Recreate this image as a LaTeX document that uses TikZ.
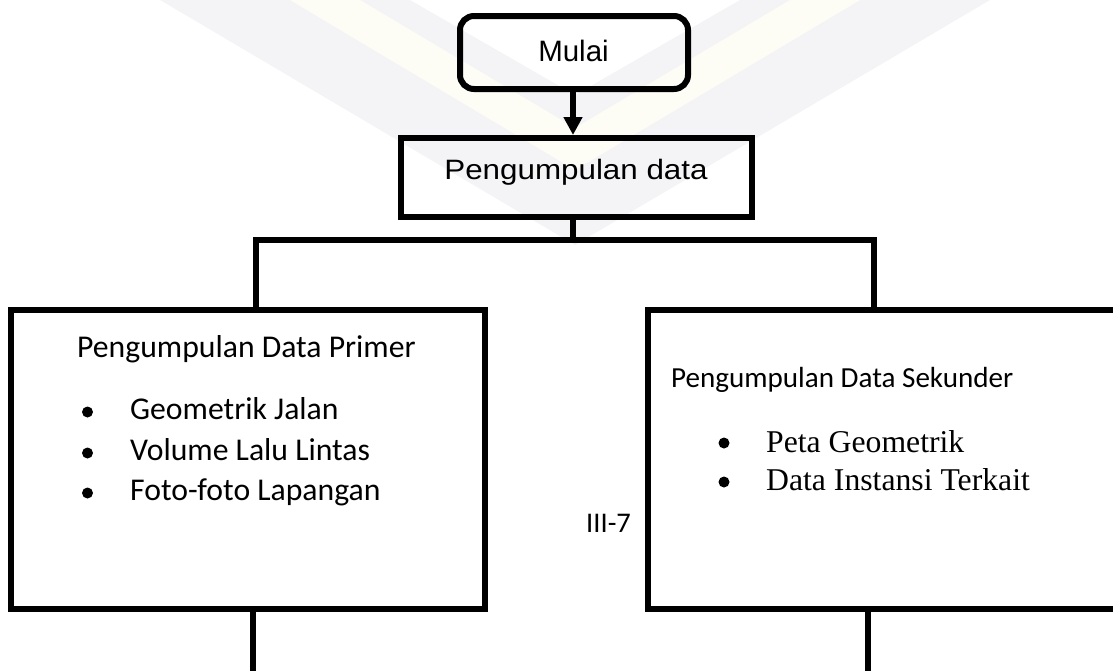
\documentclass[tikz,border=0pt]{standalone}
\usepackage{fontspec}
\setmainfont{Carlito}
\newfontfamily\arialfont{Liberation Sans}
\newfontfamily\arialwide[FakeStretch=1.12]{Liberation Sans}
\newfontfamily\timesfont{Liberation Serif}
\usetikzlibrary{arrows.meta}

\definecolor{markgray}{RGB}{244,244,247}
\definecolor{markcream}{RGB}{253,252,245}

\tikzset{
  thick box/.style={draw=black, line width=6pt, inner sep=0pt, outer sep=0pt, fill=none},
  startbox/.style={thick box, rounded corners=14pt},
  link/.style={draw=black, line width=5.5pt, line join=miter},
  flow/.style={link, -{Triangle[width=18pt,length=18pt]}, shorten >=3pt},
  bulletdot/.style={circle, fill=black, draw=none, minimum size=11pt, inner sep=0pt},
  cal/.style={inner sep=0pt, anchor=base west, font=\fontsize{31.7}{38}\selectfont},
  calsmall/.style={inner sep=0pt, anchor=base west, font=\fontsize{29.1}{35}\selectfont},
  tms/.style={inner sep=0pt, anchor=base west, font=\timesfont\fontsize{31.7}{38}\selectfont},
}

\begin{document}
\begin{tikzpicture}[x=1pt, y=-1pt]
\useasboundingbox (0,0) rectangle (1113,670);
\clip (0,0) rectangle (1113,670);

% faint emblem in the page background
\fill[markgray] (160,0) -- (575,245) -- (990,0) -- (740,0) -- (575,95) -- (410,0) -- cycle;
\fill[markcream] (290,0) -- (575,170) -- (860,0) -- (790,0) -- (575,128) -- (360,0) -- cycle;

% boxes
\node[startbox, minimum width=228pt, minimum height=73pt] (mulai) at (574,52.5) {};
\node[thick box, minimum width=351pt, minimum height=79pt] (pd) at (576.5,177.5) {};
\node[thick box, minimum width=474pt, minimum height=299pt] (primer) at (248,459.5) {};
\node[thick box, minimum width=477pt, minimum height=299pt] (sekunder) at (886.5,459.5) {};

% box captions
\node[inner sep=0pt, anchor=base, font=\arialfont\fontsize{29.5}{35}\selectfont] (tmulai) at (573.5,61) {Mulai};
\node[inner sep=0pt, anchor=base, font=\arialwide\fontsize{28}{34}\selectfont] (tpd) at (576,179.5) {Pengumpulan data};

% primary data
\node[cal] (hprimer) at (77,357) {Pengumpulan Data Primer};
\node[bulletdot] (bp1) at (87.5,412) {};
\node[bulletdot] (bp2) at (87.5,453) {};
\node[bulletdot] (bp3) at (87.5,493) {};
\node[cal] (ip1) at (130,419) {Geometrik Jalan};
\node[cal] (ip2) at (130,460) {Volume Lalu Lintas};
\node[cal] (ip3) at (130,500) {Foto-foto Lapangan};

% secondary data
\node[calsmall] (hsek) at (671,387) {Pengumpulan Data Sekunder};
\node[bulletdot] (bs1) at (724,443) {};
\node[bulletdot] (bs2) at (724,482) {};
\node[tms] (is1) at (766,452) {Peta Geometrik};
\node[tms] (is2) at (766,490) {Data Instansi Terkait};

% page number
\node[inner sep=0pt, anchor=base west, font=\fontsize{28.5}{34}\selectfont] (pageno) at (586,532) {III-7};

% connectors
\coordinate (hub) at (573,240);
\coordinate (jl) at (256,240);
\coordinate (jr) at (874,240);
\coordinate (dl) at (253,700);
\coordinate (dr) at (868,700);

\draw[flow] (mulai.south -| hub) -- (hub |- pd.north);
\draw[link] (hub |- pd.south) -- (hub);
\draw[link] (jl |- primer.north) -- (jl) -- (jr) -- (jr |- sekunder.north);
\draw[link] (dl |- primer.south) -- (dl);
\draw[link] (dr |- sekunder.south) -- (dr);
\end{tikzpicture}
\end{document}
